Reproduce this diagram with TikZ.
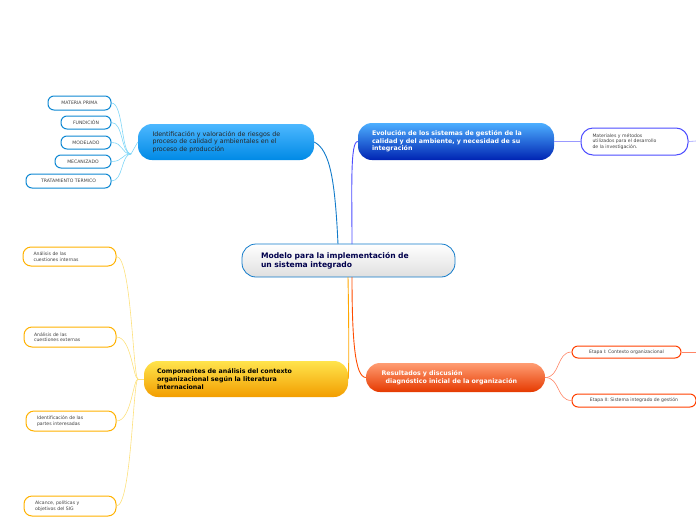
\documentclass[tikz,border=0pt]{standalone}
\usepackage{fontspec}
\setmainfont{DejaVu Sans}
\begin{document}
\begin{tikzpicture}[x=1pt,y=-1pt,
 leaf/.style={draw=#1,line width=1pt,rounded corners=6pt,fill=white,inner sep=0pt,font=\fontsize{4.6}{5.4}\selectfont,text=black!75},
 topic/.style={rounded corners=14pt,inner sep=0pt,font=\bfseries\fontsize{6.3}{7.6}\selectfont,align=left},
 con/.style={draw=#1,line width=0.6pt}]
\useasboundingbox (0,0) rectangle (696,520);
\node[draw=cyan!60!blue,line width=0.8pt,rounded corners=14pt,top color=white,bottom color=gray!25,minimum width=213pt,minimum height=33pt,inner sep=0pt,font=\bfseries\fontsize{7.6}{9}\selectfont,text=blue!30!black,align=left,text width=175pt] (c) at (348.5,260.5) {Modelo para la implementación de\\un sistema integrado};
\node[topic,top color=cyan!60!blue!70,bottom color=cyan!60!blue!90!black,minimum width=176pt,minimum height=36pt,text width=147pt,text=black!85,font=\fontsize{6.3}{7.6}\selectfont] (t1) at (226,142) {Identificación y valoración de riesgos de\\proceso de calidad y ambientales en el\\proceso de producción};
\node[topic,top color=blue!45!cyan!70,bottom color=blue!80!cyan!70!black,minimum width=196pt,minimum height=37pt,text width=168pt,text=white] (t2) at (456,141.5) {Evolución de los sistemas de gestión de la\\calidad y del ambiente, y necesidad de su\\integración};
\node[topic,top color=orange!60!red!55,bottom color=orange!50!red!90!black,minimum width=179pt,minimum height=29pt,text width=148pt,text=white] (t3) at (455.5,377.5) {Resultados y discusión\\\ \ diagnóstico inicial de la organización};
\node[topic,top color=yellow!70!orange!70,bottom color=orange!70!yellow!95!black,minimum width=204pt,minimum height=36pt,text width=178pt,text=black] (t4) at (246,379) {Componentes de análisis del contexto\\organizacional según la literatura\\internacional};
\def\cb{cyan!70!blue}
\node[leaf=\cb,minimum width=63pt,minimum height=14pt] (l1) at (79.5,103) {MATERIA PRIMA};
\node[leaf=\cb,minimum width=50pt,minimum height=13pt] (l2) at (86,122.5) {FUNDICIÓN};
\node[leaf=\cb,minimum width=50pt,minimum height=13pt] (l3) at (86,142.5) {MODELADO};
\node[leaf=\cb,minimum width=56pt,minimum height=13pt] (l4) at (83,161.5) {MECANIZADO};
\node[leaf=\cb,minimum width=85pt,minimum height=14pt] (l5) at (68.5,181) {TRATAMIENTO TERMICO};
\coordinate (j1) at (131,154);
\foreach \i in {1,...,5}{\draw[con=cyan!50] (l\i.east) .. controls +(12,0) and +(-10,0) .. (j1);}
\draw[con=cyan!50] (j1) -- (t1.west);
\node[leaf=blue!70,minimum width=107pt,minimum height=27pt,align=left,text width=84pt,rounded corners=12pt] (m) at (634.5,141.5) {Materiales y métodos\\utilizados para el desarrollo\\de la investigación.};
\coordinate (me) at (696,141);
\draw[con=blue!40] (t2.east) -- (m.west);
\draw[con=blue!40] (m.east) -- (me);
\node[leaf=orange!50!red,minimum width=109pt,minimum height=12pt] (e1) at (626.5,352) {Etapa I: Contexto organizacional};
\node[leaf=orange!50!red,minimum width=124pt,minimum height=13pt] (e2) at (634,400.5) {Etapa II: Sistema integrado de gestión};
\coordinate (ee) at (696,352);
\draw[con=orange!40!red!60] (e1.east) -- (ee);
\draw[con=orange!40!red!60] (t3.east) .. controls +(15,0) and +(-15,0) .. (e1.west);
\draw[con=orange!40!red!60] (t3.east) .. controls +(15,0) and +(-15,0) .. (e2.west);
\def\yb{orange!60!yellow}
\node[leaf=\yb,minimum width=93pt,minimum height=19pt,align=left,text width=72pt,rounded corners=8pt] (y1) at (69.5,256.5) {Análisis de las\\cuestiones internas};
\node[leaf=\yb,minimum width=92pt,minimum height=20pt,align=left,text width=72pt,rounded corners=8pt] (y2) at (70,337) {Análisis de las\\cuestiones externas};
\node[leaf=\yb,minimum width=90pt,minimum height=20pt,align=left,text width=68pt,rounded corners=8pt] (y3) at (71,421) {Identificación de las\\partes interesadas};
\node[leaf=\yb,minimum width=92pt,minimum height=20pt,align=left,text width=70pt,rounded corners=8pt] (y4) at (70,506) {Alcance, políticas y\\objetivos del SIG};
\coordinate (j4) at (138,379);
\foreach \i in {1,...,4}{\draw[con=yellow!60!orange!50] (y\i.east) .. controls +(15,0) and +(-5,0) .. (j4);}
\draw[con=yellow!60!orange!50] (j4) -- (t4.west);
\draw[con=cyan!60!blue, line width=0.9pt] (338,244) .. controls (335,180) and (330,150) .. (t1.east);
\draw[con=blue!70, line width=0.9pt] (352,244) .. controls (352,190) and (350,141) .. (t2.west);
\draw[con=orange!60!red, line width=0.9pt] (352,277) .. controls (352,340) and (355,377) .. (t3.west);
\draw[con=orange!70!yellow, line width=0.9pt] (348,277) .. controls (349,330) and (349,370) .. (t4.east);
\end{tikzpicture}
\end{document}
